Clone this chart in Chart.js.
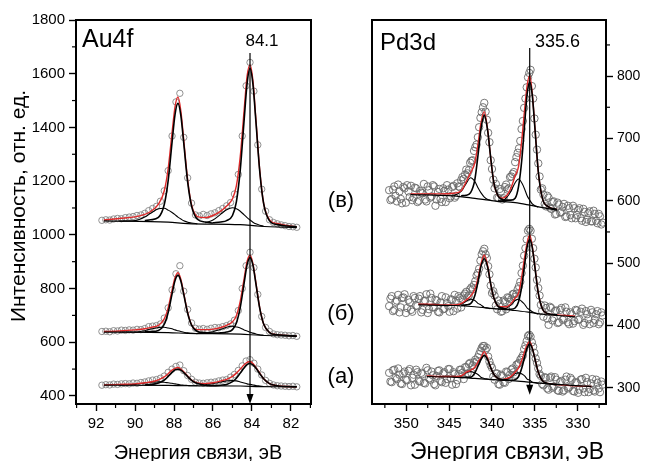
<!DOCTYPE html>
<html lang="ru">
<head>
  <meta charset="UTF-8">
  <title>РФЭС Au4f / Pd3d</title>
  <script src="https://cdn.jsdelivr.net/npm/chart.js"></script>
  <style>
    body { margin: 0; background: #fff; }
    #wrap { position: relative; width: 645px; height: 461px; }
    canvas { position: absolute; top: 0; }
    #au { left: 0; }
    #pd { left: 320px; }
  </style>
</head>
<body>
<div id="wrap">
  <canvas id="au" width="320" height="461"></canvas>
  <canvas id="pd" width="325" height="461"></canvas>
</div>
<script>
// ---------- Au4f: measured points (open circles) ----------
const auE = [91.7, 91.5, 91.3, 91.1, 90.9, 90.7, 90.5, 90.3, 90.1, 89.9, 89.7, 89.5, 89.3, 89.1, 88.9, 88.7, 88.5,
  88.3, 88.1, 87.9, 87.7, 87.5, 87.3, 87.1, 86.9, 86.7, 86.5, 86.3, 86.1, 85.9, 85.7, 85.5, 85.3, 85.1, 84.9,
  84.7, 84.5, 84.3, 84.1, 83.9, 83.7, 83.5, 83.3, 83.1, 82.9, 82.7, 82.5, 82.3, 82.1, 81.9, 81.7];
const auDotsV = [1054, 1056, 1055, 1059, 1061, 1060, 1064, 1066, 1068, 1072, 1074, 1080, 1090, 1098, 1106, 1125, 1164,
  1239, 1368, 1495, 1527, 1363, 1212, 1118, 1074, 1070, 1076, 1072, 1078, 1082, 1090, 1098, 1108, 1120, 1152,
  1225, 1368, 1555, 1642, 1535, 1335, 1170, 1088, 1056, 1046, 1041, 1037, 1034, 1031, 1030, 1028];
const auDotsB = [640, 641, 639, 643, 642, 645, 644, 646, 645, 648, 647, 651, 658, 660, 662, 668, 690,
  728, 795, 855, 885, 790, 722, 672, 652, 649, 651, 648, 652, 655, 654, 658, 662, 668, 682,
  718, 800, 885, 935, 878, 778, 696, 655, 640, 631, 628, 627, 626, 624, 625, 622];
const auDotsA = [440, 442, 441, 444, 443, 445, 446, 445, 448, 447, 450, 452, 456, 459, 461, 466, 474,
  488, 500, 510, 515, 494, 476, 462, 451, 448, 447, 449, 451, 452, 456, 459, 461, 470, 480,
  495, 512, 530, 535, 522, 500, 478, 458, 447, 441, 438, 437, 436, 435, 436, 434];

// ---------- Au4f: fit curves ----------
const auEnvE = [91.6, 90.8, 90.0, 89.5, 89.2, 88.8, 88.5, 88.3, 88.1, 87.95, 87.8, 87.65, 87.5, 87.3, 87.1, 86.8, 86.4,
  86.0, 85.6, 85.3, 85.0, 84.8, 84.6, 84.4, 84.25, 84.1, 83.95, 83.8, 83.6, 83.4, 83.1, 82.7, 82.2, 81.7];
const auEnvV = [1055, 1061, 1067, 1076, 1087, 1114, 1164, 1247, 1381, 1476, 1513, 1462, 1352, 1205, 1112, 1068, 1064,
  1072, 1088, 1107, 1134, 1182, 1292, 1466, 1591, 1633, 1574, 1433, 1240, 1117, 1056, 1042, 1035, 1030];
const auEnvB = [640, 642, 646, 650, 655, 663, 687, 728, 794, 840, 859, 835, 782, 711, 665, 647, 647,
  649, 655, 663, 676, 699, 753, 838, 901, 924, 893, 823, 728, 668, 636, 628, 625, 623];
const auEnvA = [441, 443, 445, 449, 452, 460, 471, 483, 496, 502, 506, 500, 490, 474, 459, 448, 446,
  449, 456, 462, 473, 485, 500, 516, 525, 528, 521, 506, 485, 464, 446, 438, 435, 434];

const auBgE = [91.6, 88.3, 87.3, 84.6, 83.6, 81.7];
const auBgV = [1052, 1047, 1042, 1038, 1032, 1027];
const auBgB = [638, 636, 633, 630, 626, 622];
const auBgA = [440, 439, 438, 437, 435, 434];

const auP1E = [89.5, 89.2, 88.8, 88.5, 88.3, 88.1, 87.95, 87.8, 87.65, 87.5, 87.3, 87.1, 86.8, 86.4, 86.0];
const auP1V = [1053, 1056, 1065, 1113, 1202, 1345, 1447, 1490, 1445, 1341, 1197, 1107, 1058, 1048, 1044];
const auP1B = [639, 640, 644, 667, 711, 780, 829, 850, 828, 778, 708, 664, 640, 635, 634];
const auP1A = [441, 442, 448, 459, 473, 488, 497, 499, 496, 487, 472, 458, 446, 440, 438];

const auS1E = [90.8, 90.0, 89.5, 89.2, 88.8, 88.5, 88.3, 88.1, 87.95, 87.8, 87.65, 87.5, 87.3, 87.1, 86.8];
const auS1V = [1051, 1053, 1066, 1080, 1097, 1099, 1092, 1083, 1075, 1066, 1059, 1052, 1047, 1044, 1041];
const auS1B = [638, 638, 643, 649, 655, 656, 653, 650, 646, 643, 640, 637, 635, 633, 632];
const auS1A = [440, 443, 448, 451, 453, 451, 449, 447, 445, 443, 441, 440, 439, 438, 438];

const auP2E = [86.0, 85.6, 85.3, 85.0, 84.8, 84.6, 84.4, 84.25, 84.1, 83.95, 83.8, 83.6, 83.4, 83.1, 82.7, 82.2, 81.7];
const auP2V = [1045, 1048, 1053, 1072, 1123, 1242, 1429, 1563, 1620, 1561, 1425, 1236, 1116, 1052, 1038, 1033, 1030];
const auP2B = [634, 635, 638, 647, 672, 730, 821, 888, 915, 887, 819, 726, 668, 636, 628, 625, 623];
const auP2A = [438, 440, 443, 453, 466, 485, 505, 517, 521, 516, 504, 483, 464, 446, 438, 435, 434];

const auS2E = [86.4, 86.0, 85.6, 85.3, 85.0, 84.8, 84.6, 84.4, 84.25, 84.1, 83.95, 83.8, 83.6, 83.4];
const auS2V = [1045, 1055, 1077, 1093, 1101, 1097, 1088, 1074, 1064, 1055, 1047, 1041, 1036, 1032];
const auS2B = [634, 639, 648, 656, 660, 657, 653, 646, 642, 637, 634, 631, 628, 626];
const auS2A = [442, 446, 452, 456, 457, 456, 452, 448, 445, 443, 441, 439, 437, 435];

// ---------- Pd3d: measured points (two interleaved scans) ----------
const pdE = [352.0, 351.7, 351.4, 351.1, 350.8, 350.5, 350.2, 349.9, 349.6, 349.3,
  349.0, 348.7, 348.4, 348.1, 347.8, 347.5, 347.2, 346.9, 346.6, 346.3,
  346.0, 345.7, 345.4, 345.1, 344.8, 344.5, 344.2, 343.9, 343.6, 343.3,
  343.0, 342.7, 342.4, 342.1, 341.8, 341.5, 341.2, 340.9, 340.6, 340.3,
  340.0, 339.7, 339.4, 339.1, 338.8, 338.5, 338.2, 337.9, 337.6, 337.3,
  337.0, 336.7, 336.4, 336.1, 335.8, 335.5, 335.2, 334.9, 334.6, 334.3,
  334.0, 333.7, 333.4, 333.1, 332.8, 332.5, 332.2, 331.9, 331.6, 331.3,
  331.0, 330.7, 330.4, 330.1, 329.8, 329.5, 329.2, 328.9, 328.6, 328.3,
  328.0, 327.7, 327.4, 327.1];
const pdDotsV = [617, 603, 623, 599, 615, 596, 620, 625, 606, 601,
  621, 598, 616, 612, 602, 623, 605, 625, 592, 614,
  603, 620, 598, 618, 607, 624, 608, 623, 633, 635,
  650, 649, 664, 680, 690, 718, 742, 757, 730, 694,
  651, 620, 605, 619, 602, 622, 618, 638, 643, 662,
  677, 696, 728, 764, 798, 810, 764, 706, 660, 618,
  610, 591, 605, 587, 599, 579, 594, 582, 595, 575,
  588, 572, 588, 577, 588, 568, 582, 570, 583, 567,
  579, 564, 575, 565];
const pdDotsB = [431, 447, 425, 440, 421, 444, 450, 428, 437, 422,
  444, 431, 447, 425, 440, 420, 451, 429, 441, 422,
  437, 426, 445, 431, 442, 423, 440, 447, 429, 448,
  454, 448, 461, 465, 480, 491, 514, 523, 508, 482,
  452, 448, 426, 435, 423, 438, 445, 438, 450, 446,
  458, 470, 496, 524, 552, 552, 524, 493, 460, 433,
  414, 428, 401, 428, 412, 424, 405, 428, 411, 422,
  402, 418, 407, 424, 410, 427, 404, 418, 402, 421,
  409, 423, 405, 416];
const pdDotsA = [324, 309, 329, 314, 321, 306, 326, 312, 330, 316,
  305, 325, 310, 322, 307, 328, 313, 320, 304, 327,
  311, 323, 308, 330, 315, 325, 306, 322, 329, 314,
  333, 338, 324, 341, 342, 354, 364, 367, 364, 342,
  332, 313, 323, 305, 319, 308, 325, 321, 331, 321,
  338, 345, 352, 368, 383, 382, 366, 347, 331, 319,
  304, 316, 297, 318, 302, 313, 295, 311, 296, 318,
  301, 313, 294, 308, 297, 314, 293, 309, 298, 314,
  294, 308, 293, 305];

const pdE2 = [351.85, 351.55, 351.25, 350.95, 350.65, 350.35, 350.05, 349.75, 349.45, 349.15,
  348.85, 348.55, 348.25, 347.95, 347.65, 347.35, 347.05, 346.75, 346.45, 346.15,
  345.85, 345.55, 345.25, 344.95, 344.65, 344.35, 344.05, 343.75, 343.45, 343.15,
  342.85, 342.55, 342.25, 341.95, 341.65, 341.35, 341.05, 340.75, 340.45, 340.15,
  339.85, 339.55, 339.25, 338.95, 338.65, 338.35, 338.05, 337.75, 337.45, 337.15,
  336.85, 336.55, 336.25, 335.95, 335.65, 335.35, 335.05, 334.75, 334.45, 334.15,
  333.85, 333.55, 333.25, 332.95, 332.65, 332.35, 332.05, 331.75, 331.45, 331.15,
  330.85, 330.55, 330.25, 329.95, 329.65, 329.35, 329.05, 328.75, 328.45, 328.15,
  327.85, 327.55, 327.25];
const pdDotsV2 = [601, 618, 608, 626, 603, 622, 597, 615, 624, 605,
  620, 600, 613, 627, 599, 617, 607, 623, 602, 619,
  598, 616, 625, 604, 622, 605, 628, 622, 638, 642,
  644, 661, 665, 686, 702, 733, 750, 743, 709, 665,
  634, 627, 604, 615, 604, 626, 620, 639, 646, 670,
  684, 715, 749, 782, 805, 784, 732, 682, 639, 620,
  595, 608, 589, 598, 578, 597, 581, 590, 574, 592,
  577, 592, 572, 585, 572, 587, 566, 580, 567, 584,
  568, 579, 562];
const pdDotsB2 = [443, 423, 438, 449, 429, 445, 420, 441, 425, 447,
  432, 443, 421, 439, 450, 426, 444, 429, 440, 421,
  447, 427, 436, 422, 441, 449, 427, 444, 442, 451,
  445, 458, 458, 471, 484, 504, 519, 514, 495, 464,
  455, 432, 440, 422, 440, 426, 444, 442, 451, 451,
  463, 484, 512, 538, 555, 539, 507, 473, 448, 423,
  432, 411, 430, 408, 423, 404, 425, 409, 429, 405,
  421, 403, 425, 409, 422, 401, 423, 410, 425, 404,
  418, 402, 421];
const pdDotsA2 = [310, 328, 316, 331, 307, 323, 313, 327, 304, 321,
  329, 311, 324, 308, 332, 315, 326, 306, 319, 328,
  309, 325, 314, 330, 305, 322, 312, 329, 324, 333,
  323, 340, 336, 345, 349, 359, 367, 361, 350, 336,
  318, 323, 306, 321, 309, 326, 314, 329, 325, 337,
  340, 348, 362, 375, 385, 373, 356, 340, 322, 306,
  317, 299, 316, 300, 317, 296, 309, 294, 313, 299,
  316, 295, 309, 292, 313, 299, 316, 293, 307, 296,
  313, 299, 310];

// ---------- Pd3d: fit curves ----------
const pdEnvE = [349.5, 348.6, 347.6, 346.0, 344.5, 343.6, 343.0, 342.5, 342.0, 341.6, 341.3, 340.9, 340.5, 340.2,
  339.8, 339.3, 338.8, 338.3, 337.8, 337.3, 336.9, 336.5, 336.2, 335.9, 335.6, 335.3, 335.0, 334.6, 334.1,
  333.5, 332.4, 330.3, 328.4];
const pdEnvV = [611, 611, 611, 611, 612, 616, 631, 645, 661, 694, 724, 743, 713, 675,
  630, 608, 604, 608, 620, 640, 655, 701, 746, 785, 801, 772, 719, 647, 603,
  591, 586, null, null];
const pdEnvB = [null, 434, 434, 433, 433, 435, 441, 447, 458, 478, 498, 513, 495, 470,
  445, 431, 430, 430, 435, 444, 452, 481, 509, 533, 545, 527, 495, 452, 426,
  419, 417, 415, null];
const pdEnvA = [null, null, 319, 318, 318, 319, 325, 328, 333, 342, 348, 358, 347, 334,
  322, 315, 313, 315, 318, 325, 332, 345, 358, 369, 374, 364, 347, 325, 311,
  307, 305, 303, 302];

const pdBgEV = [349.5, 344.5, 342.0, 339.8, 337.3, 335.6, 334.1, 332.4];
const pdBgV = [610, 608, 604, 600, 597, 593, 589, 585];
const pdBgEB = [348.6, 344.5, 342.0, 339.8, 337.3, 335.6, 334.1, 330.3];
const pdBgB = [433, 432, 430, 427, 424, 421, 418, 414];
const pdBgEA = [347.6, 344.5, 342.0, 339.8, 337.3, 335.6, 334.1, 328.4];
const pdBgA = [318, 317, 315, 313, 311, 309, 307, 302];

const pdP1E = [343.6, 343.0, 342.5, 342.0, 341.6, 341.3, 340.9, 340.5, 340.2, 339.8, 339.3, 338.8, 338.3];
const pdP1V = [608, 609, 613, 634, 677, 714, 737, 712, 675, 630, 608, 602, 600];
const pdP1B = [432, 433, 435, 448, 472, 494, 507, 493, 470, 445, 431, 428, 426];
const pdP1A = [316, 317, 317, 324, 336, 345, 352, 345, 334, 322, 315, 313, 312];

const pdS1E = [344.5, 343.6, 343.0, 342.5, 342.0, 341.6, 341.3, 340.9, 340.5, 340.2];
const pdS1V = [608, 615, 628, 637, 631, 620, 613, 606, 602, 601];
const pdS1B = [432, 434, 439, 442, 440, 435, 433, 429, 428, 427];
const pdS1A = [317, 319, 324, 326, 324, 321, 317, 315, 314, 313];

const pdP2E = [338.8, 338.3, 337.8, 337.3, 336.9, 336.5, 336.2, 335.9, 335.6, 335.3, 335.0, 334.6, 334.1, 333.5, 332.4];
const pdP2V = [600, 601, 601, 604, 623, 669, 722, 771, 791, 769, 718, 647, 603, 591, 586];
const pdP2B = [427, 426, 426, 428, 438, 465, 497, 526, 538, 525, 494, 452, 426, 419, 417];
const pdP2A = [312, 313, 312, 313, 318, 333, 349, 364, 370, 363, 347, 325, 311, 307, 305];

const pdS2E = [339.3, 338.8, 338.3, 337.8, 337.3, 336.9, 336.5, 336.2, 335.9, 335.6, 335.3, 335.0, 334.6];
const pdS2V = [600, 600, 605, 615, 629, 635, 628, 619, 608, 601, 595, 592, 590];
const pdS2B = [426, 427, 428, 433, 440, 442, 438, 434, 428, 425, 422, 420, 418];
const pdS2A = [313, 312, 314, 317, 323, 324, 322, 319, 314, 312, 309, 308, 307];

// axis ticks and markers
const auXTicks = [92, 90, 88, 86, 84, 82];
const auXMinor = [93, 91, 89, 87, 85, 83, 81];
const auYTicks = [400, 600, 800, 1000, 1200, 1400, 1600, 1800];
const auYMinor = [500, 700, 900, 1100, 1300, 1500, 1700];
const pdXTicks = [350, 345, 340, 335, 330];
const pdXMinor = [352.5, 347.5, 342.5, 337.5, 332.5, 327.5];
const pdYTicks = [300, 400, 500, 600, 700, 800];
const pdYMinor = [350, 450, 550, 650, 750, 850];
const auMark = 84.1;
const pdMark = 335.6;

const FONT = '"Liberation Sans", Arial, sans-serif';
const RED = '#df2a2a';
Chart.defaults.font.family = FONT;
Chart.defaults.color = '#000';

function pts(xs, ys) { return xs.map((x, i) => ({ x: x, y: ys[i] })); }

function dots(xs, ys, color, r) {
  return { data: pts(xs, ys), showLine: false, pointRadius: r, pointHoverRadius: r,
    pointBorderColor: color, pointBackgroundColor: 'rgba(255,255,255,0)', pointBorderWidth: 0.9, order: 4 };
}
function curve(xs, ys, color, width, order) {
  return { data: pts(xs, ys), borderColor: color, borderWidth: width, pointRadius: 0, fill: false,
    cubicInterpolationMode: 'monotone', spanGaps: false, order: order };
}

function axis(min, max, ticks, pos, size, fit) {
  return {
    type: 'linear', position: pos, min: min, max: max,
    afterFit: fit,
    afterBuildTicks: s => { s.ticks = ticks.map(v => ({ value: v })); },
    ticks: { autoSkip: false, maxRotation: 0, padding: 4,
      font: { size: size }, color: '#000', callback: v => String(v) },
    grid: { drawOnChartArea: false, tickLength: 7, tickColor: '#000', tickWidth: 1.4 },
    border: { color: '#000', width: 2 }
  };
}

// frame, minor ticks, marker arrow and text labels
function decor(c) {
  return {
    id: 'decor',
    afterDatasetsDraw(chart) {
      const { ctx, scales: { x, y } } = chart;
      const mx = x.getPixelForValue(c.mark);
      const top = y.getPixelForValue(c.markTop);
      const bot = y.getPixelForValue(c.markBottom);
      ctx.save();
      ctx.strokeStyle = '#000';
      ctx.fillStyle = '#000';
      ctx.lineWidth = 1.2;
      ctx.beginPath(); ctx.moveTo(mx, top); ctx.lineTo(mx, bot - 8); ctx.stroke();
      ctx.beginPath(); ctx.moveTo(mx - 3.5, bot - 10); ctx.lineTo(mx + 3.5, bot - 10); ctx.lineTo(mx, bot);
      ctx.closePath(); ctx.fill();
      ctx.restore();
    },
    afterDraw(chart) {
      const { ctx, chartArea: a, scales: { x, y } } = chart;
      ctx.save();
      ctx.strokeStyle = '#000';
      ctx.lineWidth = 2;
      ctx.strokeRect(a.left, a.top, a.right - a.left, a.bottom - a.top);
      ctx.lineWidth = 1.2;
      c.xMinor.forEach(v => {
        const px = x.getPixelForValue(v);
        ctx.beginPath(); ctx.moveTo(px, a.bottom); ctx.lineTo(px, a.bottom + 4); ctx.stroke();
      });
      c.yMinor.forEach(v => {
        const py = y.getPixelForValue(v);
        const ex = c.yRight ? a.right : a.left;
        ctx.beginPath(); ctx.moveTo(ex, py); ctx.lineTo(ex + (c.yRight ? 4 : -4), py); ctx.stroke();
      });
      ctx.fillStyle = '#000';
      c.texts.forEach(t => {
        ctx.font = t.size + 'px ' + FONT;
        ctx.textAlign = t.align || 'left';
        ctx.textBaseline = t.base || 'alphabetic';
        if (t.rot) {
          ctx.save(); ctx.translate(t.x, t.y); ctx.rotate(-Math.PI / 2);
          ctx.fillText(t.text, 0, 0); ctx.restore();
        } else {
          ctx.fillText(t.text, t.x, t.y);
        }
      });
      ctx.restore();
    }
  };
}

const common = { responsive: false, animation: false, events: [],
  plugins: { legend: { display: false }, tooltip: { enabled: false } } };

const GREY_AU = '#858585';
const GREY_PD = '#6a6a6a';

new Chart(document.getElementById('au'), {
  type: 'line',
  data: { datasets: [
    curve(auP1E, auP1V, '#000', 1.6, 1), curve(auP2E, auP2V, '#000', 1.6, 1),
    curve(auP1E, auP1B, '#000', 1.6, 1), curve(auP2E, auP2B, '#000', 1.6, 1),
    curve(auP1E, auP1A, '#000', 1.6, 1), curve(auP2E, auP2A, '#000', 1.6, 1),
    curve(auBgE, auBgV, '#000', 1.2, 1), curve(auBgE, auBgB, '#000', 1.2, 1), curve(auBgE, auBgA, '#000', 1.2, 1),
    curve(auEnvE, auEnvV, RED, 1.4, 2), curve(auEnvE, auEnvB, RED, 1.4, 2), curve(auEnvE, auEnvA, RED, 1.4, 2),
    curve(auS1E, auS1V, '#000', 1.1, 3), curve(auS2E, auS2V, '#000', 1.1, 3),
    curve(auS1E, auS1B, '#000', 1.1, 3), curve(auS2E, auS2B, '#000', 1.1, 3),
    curve(auS1E, auS1A, '#000', 1.1, 3), curve(auS2E, auS2A, '#000', 1.1, 3),
    dots(auE, auDotsV, GREY_AU, 3.2), dots(auE, auDotsB, GREY_AU, 3.2), dots(auE, auDotsA, GREY_AU, 3.2)
  ] },
  options: Object.assign({}, common, {
    layout: { padding: { left: 0, right: 9, top: 20, bottom: 0 } },
    scales: {
      x: Object.assign(axis(80.97, 93.03, auXTicks, 'bottom', 15, s => { s.height = 57; }), { reverse: true }),
      y: axis(370, 1800, auYTicks, 'left', 15, s => { s.width = 76; })
    }
  }),
  plugins: [decor({
    mark: auMark, markTop: 1677, markBottom: 370, xMinor: auXMinor, yMinor: auYMinor, yRight: false,
    texts: [
      { text: 'Au4f', x: 82, y: 47, size: 25 },
      { text: '84.1', x: 262, y: 46, size: 17, align: 'center' },
      { text: 'Интенсивность, отн. ед.', x: 19, y: 206, size: 21, align: 'center', base: 'middle', rot: true },
      { text: 'Энергия связи, эВ', x: 198, y: 459, size: 20, align: 'center' }
    ]
  })]
});

new Chart(document.getElementById('pd'), {
  type: 'line',
  data: { datasets: [
    curve(pdP1E, pdP1V, '#000', 1.6, 1), curve(pdP2E, pdP2V, '#000', 1.6, 1),
    curve(pdP1E, pdP1B, '#000', 1.6, 1), curve(pdP2E, pdP2B, '#000', 1.6, 1),
    curve(pdP1E, pdP1A, '#000', 1.6, 1), curve(pdP2E, pdP2A, '#000', 1.6, 1),
    curve(pdBgEV, pdBgV, '#000', 1.2, 1), curve(pdBgEB, pdBgB, '#000', 1.2, 1), curve(pdBgEA, pdBgA, '#000', 1.2, 1),
    curve(pdEnvE, pdEnvV, RED, 1.4, 2), curve(pdEnvE, pdEnvB, RED, 1.4, 2), curve(pdEnvE, pdEnvA, RED, 1.4, 2),
    curve(pdS1E, pdS1V, '#000', 1.1, 3), curve(pdS2E, pdS2V, '#000', 1.1, 3),
    curve(pdS1E, pdS1B, '#000', 1.1, 3), curve(pdS2E, pdS2B, '#000', 1.1, 3),
    curve(pdS1E, pdS1A, '#000', 1.1, 3), curve(pdS2E, pdS2A, '#000', 1.1, 3),
    dots(pdE, pdDotsV, GREY_PD, 3.7), dots(pdE, pdDotsB, GREY_PD, 3.7), dots(pdE, pdDotsA, GREY_PD, 3.7),
    dots(pdE2, pdDotsV2, GREY_PD, 3.7), dots(pdE2, pdDotsB2, GREY_PD, 3.7), dots(pdE2, pdDotsA2, GREY_PD, 3.7)
  ] },
  options: Object.assign({}, common, {
    layout: { padding: { left: 52, right: 0, top: 20, bottom: 0 } },
    scales: {
      x: Object.assign(axis(326.7, 354, pdXTicks, 'bottom', 15, s => { s.height = 57; }), { reverse: true }),
      y: axis(274, 890, pdYTicks, 'right', 14, s => { s.width = 39; })
    }
  }),
  plugins: [decor({
    mark: pdMark, markTop: 845, markBottom: 289, xMinor: pdXMinor, yMinor: pdYMinor, yRight: true,
    texts: [
      { text: 'Pd3d', x: 60, y: 50, size: 24 },
      { text: '335.6', x: 215, y: 47, size: 18 },
      { text: '(в)', x: 21, y: 201, size: 22, align: 'center', base: 'middle' },
      { text: '(б)', x: 21, y: 314, size: 22, align: 'center', base: 'middle' },
      { text: '(а)', x: 21, y: 377, size: 22, align: 'center', base: 'middle' },
      { text: 'Энергия связи, эВ', x: 187, y: 459, size: 23, align: 'center' }
    ]
  })]
});
</script>
</body>
</html>
